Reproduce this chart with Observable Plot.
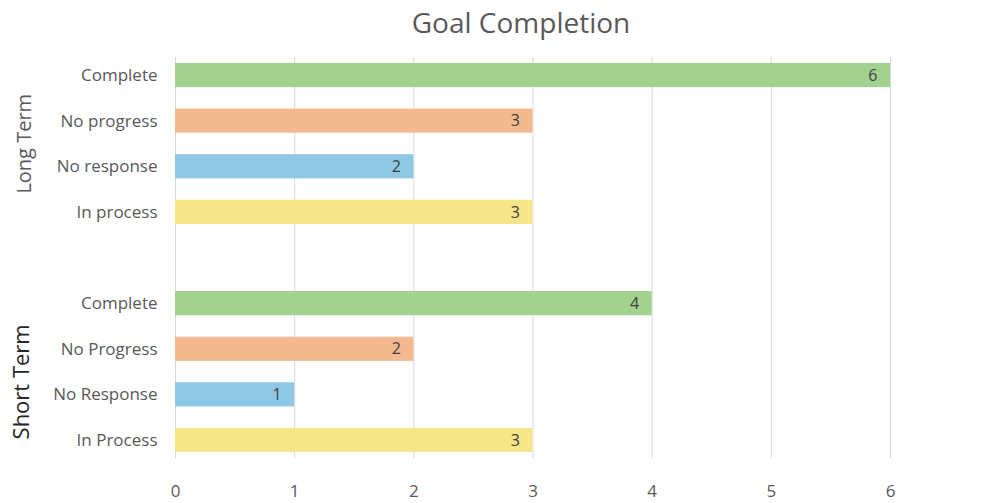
<!DOCTYPE html>
<html>
<head>
<meta charset="utf-8">
<script src="https://cdn.jsdelivr.net/npm/d3@7"></script>
<script src="https://cdn.jsdelivr.net/npm/@observablehq/plot@0.6"></script>
<style>
  html, body { margin: 0; padding: 0; background: #fff; }
  body { width: 1006px; height: 503px; overflow: hidden; font-family: "Open Sans", sans-serif; }
  #title { height: 45px; line-height: 45px; text-align: center; padding-left: 36px; box-sizing: border-box;
           font-size: 28px; color: #595959; font-family: "Open Sans", sans-serif; }
  #chart svg { display: block; }
</style>
</head>
<body>
<div id="title">Goal Completion</div>
<div id="chart"></div>
<script>
// Row keys (top to bottom), their display labels, groups, values, statuses
const rowKeys   = ["LT Complete", "LT No progress", "LT No response", "LT In process", "gap",
                   "ST Complete", "ST No Progress", "ST No Response", "ST In Process"];
const rowLabels = ["Complete", "No progress", "No response", "In process", "",
                   "Complete", "No Progress", "No Response", "In Process"];
const rowStatus = ["Complete", "No progress", "No response", "In process", null,
                   "Complete", "No progress", "No response", "In process"];
const values    = [6, 3, 2, 3, null, 4, 2, 1, 3];

const statuses = ["Complete", "No progress", "No response", "In process"];
const colors   = ["#a2d190", "#f3ba90", "#8fc8e4", "#f7e58a"];

const groups      = ["Long Term", "Short Term"];
const groupAnchor = ["LT No response", "ST No Response"];

const xTicks = [0, 1, 2, 3, 4, 5, 6];

const bars = rowKeys.map((k, i) => ({key: k, label: rowLabels[i], status: rowStatus[i], value: values[i]}))
                    .filter(d => d.value != null);
const labelOf = new Map(rowKeys.map((k, i) => [k, rowLabels[i]]));
const groupData = groups.map((g, i) => ({group: g, key: groupAnchor[i], i}));

const chart = Plot.plot({
  width: 1006,
  height: 458,
  marginLeft: 175,
  marginRight: 116,
  marginTop: 12,
  marginBottom: 45,
  style: {fontFamily: "Open Sans, sans-serif", fontSize: "17px", color: "#595959", background: "#fff"},
  x: {domain: [0, 6], label: null},
  y: {domain: rowKeys, paddingInner: 0.47, paddingOuter: 0.13, round: false, tickSize: 0, tickPadding: 18,
      label: null, tickFormat: k => labelOf.get(k)},
  color: {domain: statuses, range: colors},
  marks: [
    Plot.gridX(xTicks, {stroke: "#d9d9d9", strokeOpacity: 1, strokeWidth: 1}),
    Plot.barX(bars, {x: "value", y: "key", fill: "status"}),
    Plot.text(bars, {x: "value", y: "key", text: d => String(d.value), textAnchor: "end", dx: -13,
                     fill: "#404040", fontSize: 16}),
    Plot.text(groupData.filter(d => d.i === 0), {y: "key", text: "group", frameAnchor: "left", textAnchor: "middle",
                     dx: -151, dy: -23, rotate: -90, fontSize: 20, fill: "#595959"}),
    Plot.text(groupData.filter(d => d.i === 1), {y: "key", text: "group", frameAnchor: "left", textAnchor: "middle",
                     dx: -154, dy: -13, rotate: -90, fontSize: 22, fill: "#262626"}),
    Plot.axisX({ticks: xTicks, tickFormat: d3.format("d"), tickSize: 0, tickPadding: 26, fontSize: "17px", label: null})
  ]
});
document.getElementById("chart").appendChild(chart);
</script>
</body>
</html>
